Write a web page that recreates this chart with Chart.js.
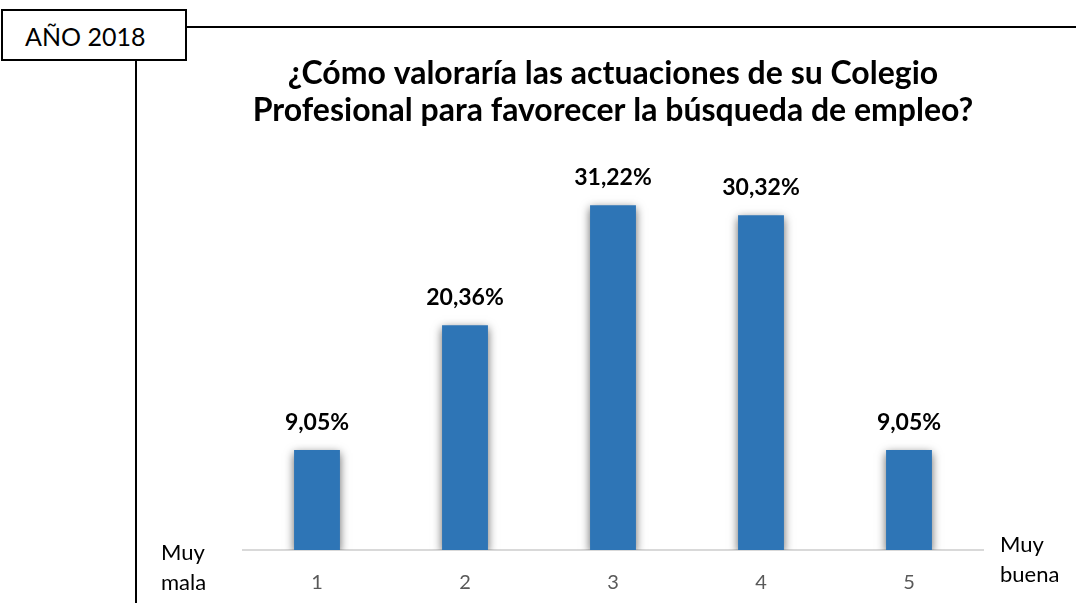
<!DOCTYPE html>
<html>
<head>
<meta charset="utf-8">
<script src="https://cdn.jsdelivr.net/npm/chart.js@4.4.1/dist/chart.umd.min.js"></script>
<style>
  html, body { margin: 0; padding: 0; background: #fff; }
  #wrap { position: relative; width: 1076px; height: 603px; overflow: hidden; font-family: Lato, sans-serif; }
  #myChart { position: absolute; left: 0; top: 0; }
  .year { position: absolute; left: 1px; top: 9px; width: 160px; height: 48px; padding-left: 22px; border: 2px solid #000; box-sizing: content-box;
          font-size: 25px; line-height: 50px; text-align: left; color: #000; background: #fff; }
  .hline { position: absolute; left: 185px; top: 26px; width: 891px; height: 2px; background: #000; }
  .vline { position: absolute; left: 135px; top: 60px; width: 2px; height: 543px; background: #000; }
  .side { position: absolute; font-size: 22px; line-height: 30px; color: #000; }
</style>
</head>
<body>
<div id="wrap">
  <canvas id="myChart" width="1076" height="603"></canvas>
  <div class="hline"></div>
  <div class="vline"></div>
  <div class="year">AÑO 2018</div>
  <div class="side" style="left:161px; top:537px;">Muy<br>mala</div>
  <div class="side" style="left:1000px; top:529px;">Muy<br>buena</div>
</div>
<script>
const ctx = document.getElementById('myChart');

const categories = ['1', '2', '3', '4', '5']
const values = [9.05, 20.36, 31.22, 30.32, 9.05]
const titleLines = ['¿Cómo valoraría las actuaciones de su Colegio', 'Profesional para favorecer la búsqueda de empleo?']

// soft shadow round each bar
const barShadow = {
    id: 'barShadow',
    beforeDatasetDraw(chart) {
        const c = chart.ctx
        c.save()
        c.shadowColor = 'rgba(0, 0, 0, 0.6)'
        c.shadowBlur = 9
        c.shadowOffsetY = 3
    },
    afterDatasetDraw(chart) {
        chart.ctx.restore()
    }
}

// percentage written above each bar
const valueLabels = {
    id: 'valueLabels',
    afterDatasetsDraw(chart) {
        const c = chart.ctx
        const meta = chart.getDatasetMeta(0)
        c.save()
        c.font = 'bold 23px Lato'
        c.fillStyle = '#000'
        c.textAlign = 'center'
        c.textBaseline = 'middle'
        meta.data.forEach((bar, i) => {
            const txt = values[i].toFixed(2).replace('.', ',') + '%'
            c.fillText(txt, bar.x, bar.y - 28)
        })
        c.restore()
    }
}

new Chart(ctx, {
    type: 'bar',
    data: {
        labels: categories,
        datasets: [{
            data: values,
            backgroundColor: '#2E75B6',
            borderWidth: 0,
            barPercentage: 0.31,
            categoryPercentage: 1
        }]
    },
    options: {
        responsive: false,
        animation: false,
        layout: {
            padding: { left: 243, right: 93, top: 0, bottom: 9 }
        },
        plugins: {
            legend: { display: false },
            tooltip: { enabled: false },
            title: {
                display: true,
                text: titleLines,
                color: '#000',
                font: { family: 'Lato', size: 32, weight: 'bold', lineHeight: 1.15 },
                padding: { top: 55, bottom: 35 }
            }
        },
        scales: {
            x: {
                grid: { display: false, drawTicks: false },
                border: { display: true, color: '#D9D9D9', width: 2 },
                ticks: { color: '#595959', font: { family: 'Lato', size: 20 }, padding: 21 },
                afterFit(scale) { scale.height = 44 }
            },
            y: {
                display: false,
                min: 0,
                max: 35
            }
        }
    },
    plugins: [barShadow, valueLabels]
});
</script>
</body>
</html>
